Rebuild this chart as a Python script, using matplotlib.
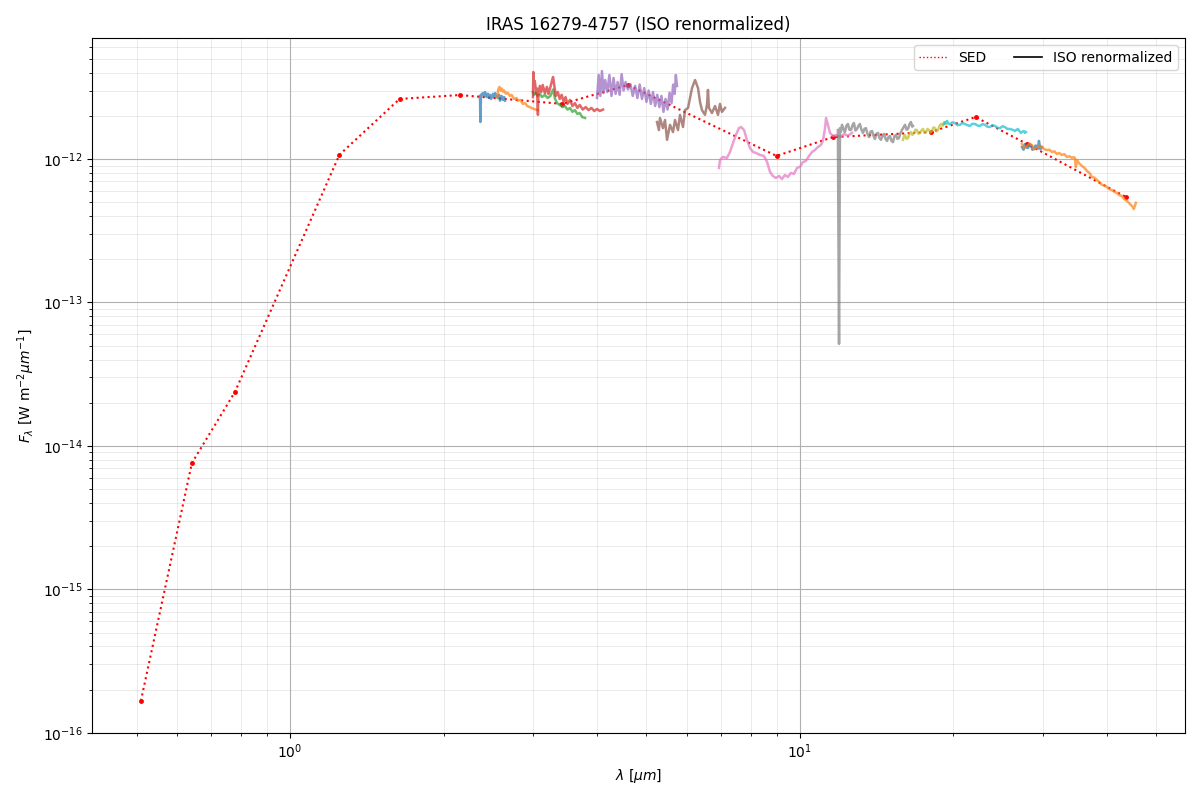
import numpy as np
import matplotlib
matplotlib.use("Agg")
import matplotlib.pyplot as plt
from matplotlib.lines import Line2D

# ---------------- SED photometry ----------------
sed_wl = [0.51, 0.642, 0.78, 1.25, 1.64, 2.15, 3.42, 4.6, 9.0, 11.6, 18.07, 22.1, 27.9, 43.6]
sed_flux = [1.67e-16, 7.6e-15, 2.38e-14, 1.07e-12, 2.62e-12, 2.79e-12, 2.42e-12,
            3.28e-12, 1.05e-12, 1.42e-12, 1.54e-12, 1.96e-12, 1.27e-12, 5.43e-13]

# ---------------- ISO renormalized segments (flux in 1e-12 W m-2 um-1) ----------------
seg1_wl = [2.358, 2.362, 2.369, 2.39, 2.40, 2.412, 2.43, 2.444, 2.455, 2.466, 2.48, 2.50,
           2.51, 2.523, 2.54, 2.557, 2.57, 2.58, 2.60, 2.615, 2.63, 2.639]
seg1_fl = [2.75, 1.81, 2.80, 2.88, 2.75, 2.93, 2.70, 2.85, 2.66, 2.80, 2.62, 2.84,
           2.70, 2.88, 2.75, 2.66, 2.80, 2.55, 2.75, 2.58, 2.70, 2.55]

seg2_wl = [2.55, 2.56, 2.575, 2.59, 2.60, 2.615, 2.63, 2.65, 2.67, 2.70, 2.72, 2.75,
           2.78, 2.80, 2.83, 2.86, 2.89, 2.92, 2.95, 2.99, 3.03, 3.06]
seg2_fl = [2.70, 3.05, 3.18, 3.00, 3.10, 2.95, 3.00, 2.85, 2.90, 2.75, 2.80, 2.62,
           2.66, 2.55, 2.58, 2.42, 2.45, 2.34, 2.30, 2.25, 2.21, 2.19]

seg3_wl = [2.995, 3.01, 3.03, 3.06, 3.09, 3.12, 3.16, 3.20, 3.24, 3.28, 3.31, 3.34,
           3.38, 3.42, 3.46, 3.50, 3.54, 3.58, 3.62, 3.66, 3.70, 3.74, 3.79]
seg3_fl = [2.93, 2.80, 2.90, 2.75, 2.84, 2.70, 2.80, 2.66, 2.75, 3.05, 2.62, 2.45,
           2.38, 2.30, 2.34, 2.21, 2.27, 2.13, 2.19, 2.06, 2.09, 1.96, 1.93]

seg4_wl = [2.995, 3.00, 3.01, 3.02, 3.04, 3.05, 3.063, 3.07, 3.09, 3.11, 3.13, 3.16,
           3.19, 3.21, 3.23, 3.25, 3.27, 3.28, 3.30, 3.32, 3.35, 3.38, 3.41, 3.44,
           3.47, 3.50, 3.54, 3.58, 3.62, 3.66, 3.70, 3.75, 3.80, 3.85, 3.90, 3.95,
           4.00, 4.05, 4.11]
seg4_fl = [2.70, 4.04, 3.20, 3.50, 2.84, 3.10, 2.03, 2.90, 3.23, 2.93, 3.28, 2.88,
           3.18, 2.84, 3.05, 3.30, 3.60, 3.73, 3.20, 2.75, 2.93, 2.62, 2.80, 2.50,
           2.70, 2.42, 2.58, 2.34, 2.45, 2.27, 2.38, 2.21, 2.30, 2.19, 2.27, 2.16,
           2.23, 2.16, 2.21]

seg5_wl = [4.00, 4.03, 4.06, 4.09, 4.12, 4.15, 4.19, 4.23, 4.27, 4.31, 4.35, 4.39,
           4.43, 4.47, 4.51, 4.55, 4.60, 4.65, 4.70, 4.75, 4.80, 4.85, 4.90, 4.95,
           5.00, 5.05, 5.10, 5.15, 5.20, 5.25, 5.30, 5.35, 5.40, 5.45, 5.50, 5.55,
           5.60, 5.64, 5.68, 5.71, 5.74]
seg5_fl = [2.66, 3.85, 2.75, 4.10, 2.88, 3.55, 2.93, 3.85, 2.75, 3.67, 2.84, 3.44,
           2.80, 3.90, 3.00, 3.44, 3.05, 3.33, 2.75, 3.23, 2.66, 3.30, 2.62, 3.12,
           2.50, 3.00, 2.42, 2.93, 2.34, 2.80, 2.30, 2.75, 2.13, 2.62, 2.21, 2.90,
           2.45, 3.30, 2.84, 3.85, 3.23]

seg6_wl = [5.244, 5.29, 5.315, 5.388, 5.437, 5.487, 5.561, 5.637, 5.688, 5.765, 5.818,
           5.897, 5.951, 6.033, 6.087, 6.142, 6.226, 6.311, 6.368, 6.425, 6.513, 6.572,
           6.601, 6.631, 6.722, 6.814, 6.907, 6.969, 7.031, 7.129]
seg6_fl = [1.81, 1.59, 1.93, 1.64, 1.87, 1.36, 1.73, 1.54, 1.87, 1.59, 2.03,
           1.67, 2.19, 2.27, 2.66, 3.12, 3.55, 3.12, 2.50, 2.19, 2.03, 2.38,
           3.03, 2.27, 2.09, 2.34, 2.03, 2.42, 2.13, 2.27]

seg7_wl = [6.938, 6.969, 7.06, 7.19, 7.292, 7.39, 7.49, 7.59, 7.663, 7.77, 7.87, 7.981,
           8.09, 8.20, 8.349, 8.50, 8.62, 8.735, 8.85, 8.97, 9.10, 9.22, 9.346, 9.47,
           9.60, 9.73, 9.87, 10.0, 10.14, 10.27, 10.42, 10.56, 10.70, 10.84, 10.99,
           11.09, 11.20, 11.25, 11.35, 11.45, 11.61, 11.77, 11.98, 12.20, 12.42, 12.65]
seg7_fl = [0.866, 0.984, 1.033, 1.016, 1.119, 1.29, 1.47, 1.64, 1.67, 1.59, 1.36, 1.193,
           1.119, 1.101, 1.066, 1.049, 0.953, 0.812, 0.761, 0.737, 0.761, 0.725, 0.774, 0.749,
           0.799, 0.786, 0.866, 0.880, 0.953, 0.968, 1.049, 1.119, 1.155, 1.21, 1.25,
           1.335, 1.64, 1.93, 1.73, 1.52, 1.446, 1.47, 1.42, 1.494, 1.45, 1.52]

seg8_wl = [11.87, 11.93, 11.98, 12.03, 12.09, 12.17, 12.25, 12.33, 12.42, 12.50, 12.59,
           12.68, 12.76, 12.85, 12.94, 13.02, 13.11, 13.20, 13.29, 13.38, 13.47, 13.56,
           13.66, 13.75, 13.85, 13.94, 14.03, 14.13, 14.23, 14.32, 14.42, 14.52, 14.62,
           14.72, 14.82, 14.91, 15.01, 15.11, 15.22, 15.32, 15.43, 15.53, 15.64, 15.75,
           15.85, 15.96, 16.07, 16.18, 16.29, 16.40, 16.51, 16.60, 16.66]
seg8_fl = [1.59, 0.0514, 1.64, 1.55, 1.73, 1.62, 1.54, 1.70, 1.753, 1.60, 1.59,
           1.72, 1.78, 1.58, 1.618, 1.70, 1.753, 1.60, 1.52, 1.62, 1.64, 1.50,
           1.42, 1.55, 1.567, 1.45, 1.378, 1.50, 1.52, 1.40, 1.36, 1.46, 1.494,
           1.38, 1.335, 1.42, 1.446, 1.34, 1.31, 1.44, 1.47, 1.38, 1.40, 1.52,
           1.59, 1.66, 1.73, 1.60, 1.618, 1.75, 1.81, 1.68, 1.698]

seg9_wl = [15.92, 16.0, 16.07, 16.18, 16.29, 16.40, 16.51, 16.62, 16.74, 16.85, 16.96,
           17.07, 17.19, 17.31, 17.43, 17.55, 17.67, 17.79, 17.91, 18.03, 18.15, 18.27,
           18.40, 18.52, 18.65, 18.78, 18.91, 19.04, 19.17, 19.34]
seg9_fl = [1.36, 1.44, 1.47, 1.38, 1.40, 1.50, 1.54, 1.47, 1.52, 1.60, 1.59,
           1.50, 1.52, 1.58, 1.618, 1.52, 1.54, 1.62, 1.59, 1.53, 1.567, 1.66,
           1.64, 1.56, 1.59, 1.70, 1.753, 1.70, 1.81, 1.753]

seg10_wl = [19.17, 19.30, 19.43, 19.56, 19.69, 19.90, 20.14, 20.37, 20.60, 20.83, 21.07,
            21.30, 21.54, 21.80, 22.04, 22.30, 22.54, 22.80, 23.05, 23.30, 23.58, 23.85,
            24.12, 24.40, 24.67, 24.95, 25.23, 25.50, 25.81, 26.10, 26.40, 26.60, 26.76,
            26.95, 27.13, 27.30, 27.50, 27.62, 27.75]
seg10_fl = [1.753, 1.80, 1.841, 1.76, 1.753, 1.80, 1.78, 1.72, 1.73, 1.78, 1.753,
            1.72, 1.70, 1.76, 1.753, 1.71, 1.70, 1.75, 1.73, 1.68, 1.67, 1.72,
            1.70, 1.65, 1.64, 1.69, 1.67, 1.62, 1.618, 1.60, 1.567, 1.60, 1.618,
            1.56, 1.52, 1.55, 1.567, 1.52, 1.54]

seg11_wl = [27.25, 27.45, 27.62, 27.80, 28.00, 28.20, 28.38, 28.56, 28.76, 28.96, 29.16,
            29.30, 29.42, 29.62, 29.82]
seg11_fl = [1.21, 1.16, 1.272, 1.20, 1.193, 1.26, 1.25, 1.16, 1.174, 1.24, 1.23,
            1.18, 1.335, 1.17, 1.21]

seg12_wl = [27.25, 27.55, 27.87, 28.20, 28.50, 28.80, 29.16, 29.50, 29.82, 30.15, 30.50,
            30.85, 31.20, 31.55, 31.91, 32.25, 32.63, 33.00, 33.38, 33.75, 34.14, 34.40,
            34.60, 34.76, 34.92, 35.30, 35.72, 36.10, 36.54, 36.95, 37.37, 37.80, 38.22,
            38.65, 39.09, 39.50, 39.99, 40.45, 40.90, 41.35, 41.83, 42.30, 42.79, 43.25,
            43.76, 44.15, 44.56, 44.90, 45.16, 45.57]
seg12_fl = [1.272, 1.20, 1.23, 1.28, 1.25, 1.17, 1.193, 1.24, 1.21, 1.17, 1.155,
            1.16, 1.119, 1.13, 1.083, 1.10, 1.066, 1.08, 1.033, 1.045, 1.016, 1.03,
            1.016, 0.880, 0.984, 0.93, 0.894, 0.87, 0.825, 0.80, 0.749, 0.74, 0.714,
            0.69, 0.659, 0.655, 0.638, 0.615, 0.608, 0.59, 0.579, 0.56, 0.552, 0.525,
            0.510, 0.495, 0.478, 0.465, 0.448, 0.494]

segments = [(seg1_wl, seg1_fl), (seg2_wl, seg2_fl), (seg3_wl, seg3_fl), (seg4_wl, seg4_fl),
            (seg5_wl, seg5_fl), (seg6_wl, seg6_fl), (seg7_wl, seg7_fl), (seg8_wl, seg8_fl),
            (seg9_wl, seg9_fl), (seg10_wl, seg10_fl), (seg11_wl, seg11_fl), (seg12_wl, seg12_fl)]
flux_unit = 1e-12

fig, ax = plt.subplots(figsize=(12, 8), dpi=100)

ax.plot(sed_wl, sed_flux, ':', color='red', lw=1.5, marker='o', markersize=2.5, label='SED')

for i, (wl, fl) in enumerate(segments):
    ax.plot(wl, np.array(fl) * flux_unit, '-', color=f'C{i % 10}', lw=1.8, alpha=0.7)

ax.set_xscale('log')
ax.set_yscale('log')
ax.set_xlim(0.409, 56.9)
ax.set_ylim(1e-16, 6.97e-12)

ax.grid(True, which='major', color='#b0b0b0', lw=0.8)
ax.grid(True, which='minor', color='#b0b0b0', lw=0.6, alpha=0.3)

ax.set_xlabel(r'$\lambda$ [$\mu m$]')
ax.set_ylabel(r'$F_\lambda$ [W m$^{-2}$$\mu m^{-1}$]')
ax.set_title('IRAS 16279-4757 (ISO renormalized)')

handles = [Line2D([], [], ls=':', color='red', lw=1), Line2D([], [], ls='-', color='black', lw=1.2)]
ax.legend(handles, ['SED', 'ISO renormalized'], loc='upper right', ncol=2)

fig.subplots_adjust(left=0.0767, right=0.9875, top=0.9525, bottom=0.084)
fig.savefig('out.png', dpi=100)
